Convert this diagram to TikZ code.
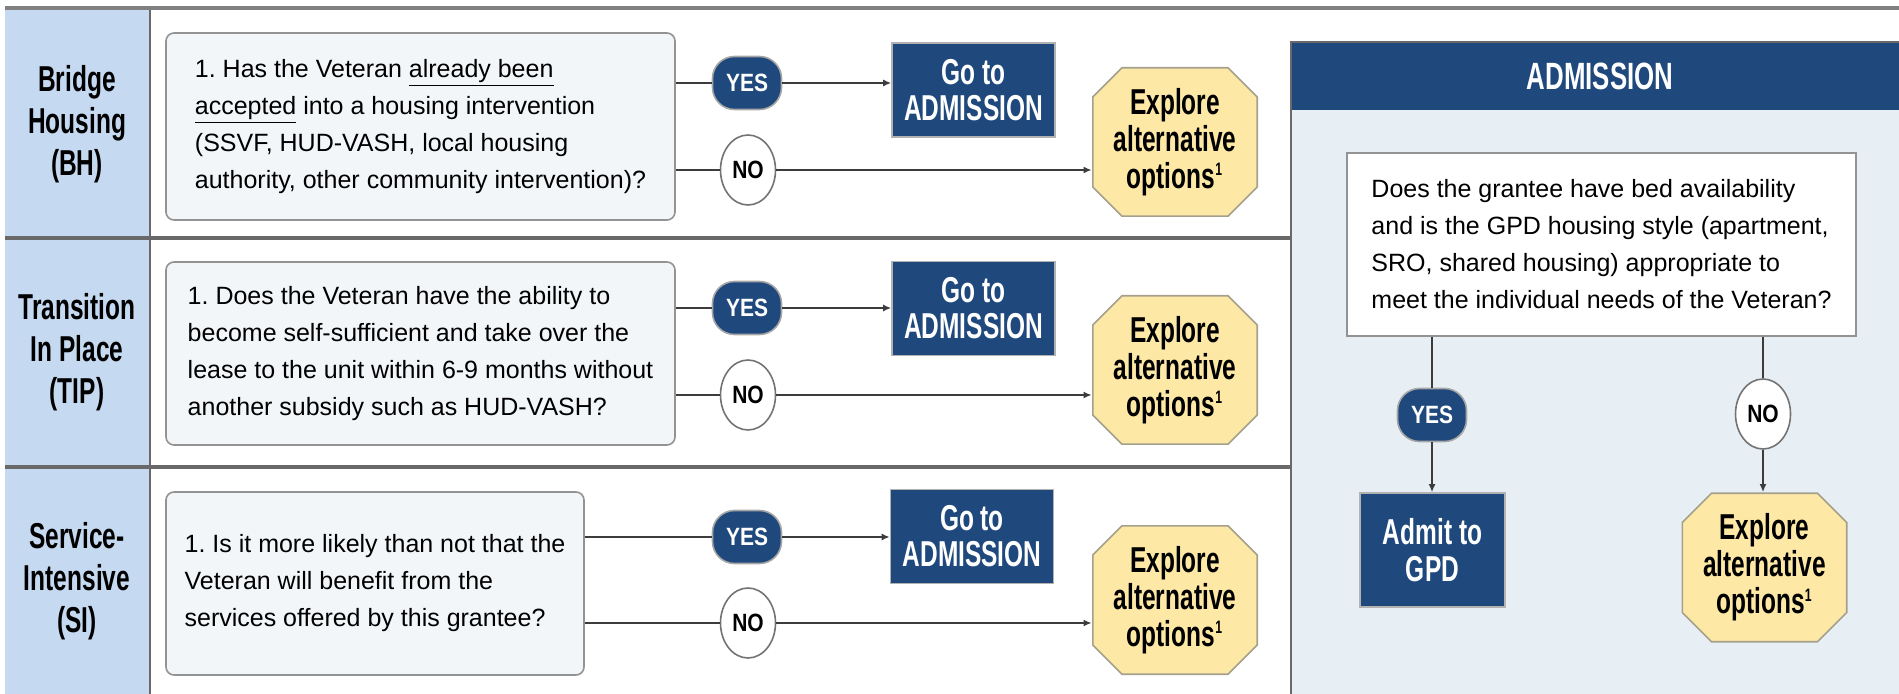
\documentclass[tikz,border=0pt]{standalone}
\usepackage{fontspec}
\setmainfont{Liberation Sans}
\newfontfamily\tallbold{Liberation Sans}[FakeStretch=0.68]
\newfontfamily\midbold{Liberation Sans}[FakeStretch=0.84]
\usepackage{xcolor}
\usetikzlibrary{shapes.geometric, arrows.meta, positioning, calc}
\frenchspacing

\definecolor{navy}{RGB}{31,73,125}
\definecolor{labelblue}{RGB}{197,217,241}
\definecolor{qfill}{RGB}{243,246,249}
\definecolor{octfill}{RGB}{253,232,166}
\definecolor{octedge}{RGB}{165,160,140}
\definecolor{panelfill}{RGB}{232,239,244}
\definecolor{rulegray}{RGB}{105,105,105}
\definecolor{linegray}{RGB}{60,60,60}

\newcommand{\footone}{\textsuperscript{\fontsize{9}{9}\selectfont 1}}

\tikzset{
  qbox/.style={draw=gray!85, fill=qfill, rounded corners=4pt, line width=0.8pt, align=left, minimum width=254.5pt, inner xsep=0pt, font=\fontsize{12.5}{18.5}\selectfont},
  yesnode/.style={draw=gray!70, fill=navy, text=white, rounded corners=11pt, minimum width=34.5pt, minimum height=26.5pt, inner sep=0pt, line width=0.8pt, font=\midbold\bfseries\fontsize{12.5}{14}\selectfont},
  nonode/.style={ellipse, draw=gray!90!black, fill=white, minimum width=27.5pt, minimum height=35pt, inner sep=0pt, line width=0.8pt, font=\midbold\bfseries\fontsize{12.5}{14}\selectfont},
  gobox/.style={draw=gray!60, fill=navy, text=white, align=center, minimum width=81.5pt, minimum height=47pt, line width=0.8pt, font=\tallbold\bfseries\fontsize{18}{18}\selectfont},
  octbox/.style={rectangle, fill=white, minimum width=83pt, minimum height=75pt, inner sep=0pt, align=center, font=\tallbold\bfseries\fontsize{18}{18.5}\selectfont,
    path picture={\draw[draw=octedge, fill=octfill, line width=0.8pt]
      ([xshift=15pt, yshift=-0.4pt]path picture bounding box.north west) --
      ([xshift=-15pt, yshift=-0.4pt]path picture bounding box.north east) --
      ([xshift=-0.4pt, yshift=-15pt]path picture bounding box.north east) --
      ([xshift=-0.4pt, yshift=15pt]path picture bounding box.south east) --
      ([xshift=-15pt, yshift=0.4pt]path picture bounding box.south east) --
      ([xshift=15pt, yshift=0.4pt]path picture bounding box.south west) --
      ([xshift=0.4pt, yshift=15pt]path picture bounding box.south west) --
      ([xshift=0.4pt, yshift=-15pt]path picture bounding box.north west) -- cycle;}},
  rowlabel/.style={align=center, font=\tallbold\bfseries\fontsize{18}{21}\selectfont},
  track/.style={draw=linegray, line width=0.9pt},
  flow/.style={track, -{Latex[length=4pt, width=3.5pt]}},
}

\begin{document}
\begin{tikzpicture}[x=0.5pt, y=-0.5pt]
\useasboundingbox (0,0) rectangle (1899,694);

% Left column and row rules
\fill[labelblue] (5,8) rectangle (150,694);
\draw[rulegray, line width=1.6pt] (5,238) -- (1291,238);
\draw[rulegray, line width=1.6pt] (5,467) -- (1291,467);
\draw[rulegray, line width=1.4pt] (150,8) -- (150,694);
\draw[gray, line width=2pt] (5,8) -- (1899,8);

% Row 1: Bridge Housing
\node[rowlabel] (bh) at (77,124) {Bridge\\Housing\\(BH)};
\node[qbox, minimum height=93.5pt] (q1) at (420.5,126.5)
   {1. Has the Veteran \underline{already been}\\\underline{accepted} into a housing intervention\\(SSVF, HUD-VASH, local housing\\authority, other community intervention)?};
\node[yesnode] (y1) at (747,83) {YES};
\node[nonode] (n1) at (748,170) {NO};
\node[gobox] (go1) at (973.5,90) {Go to\\ADMISSION};
\node[octbox] (o1) at (1175,142) {Explore\\alternative\\options\footone};

\draw[track] (y1 -| q1.east) -- (y1);
\draw[flow] (y1) -- (y1 -| go1.west);
\draw[track] (n1 -| q1.east) -- (n1);
\draw[flow] (n1) -- (n1 -| o1.west);

% Row 2: Transition In Place
\node[rowlabel] (tip) at (77,352) {Transition\\In Place\\(TIP)};
\node[qbox, minimum height=91.5pt] (q2) at (420.5,353.5)
   {1. Does the Veteran have the ability to\\become self-sufficient and take over the\\lease to the unit within 6-9 months without\\another subsidy such as HUD-VASH?};
\node[yesnode] (y2) at (747,308) {YES};
\node[nonode] (n2) at (748,395) {NO};
\node[gobox] (go2) at (973.5,308.5) {Go to\\ADMISSION};
\node[octbox] (o2) at (1175,370) {Explore\\alternative\\options\footone};

\draw[track] (y2 -| q2.east) -- (y2);
\draw[flow] (y2) -- (y2 -| go2.west);
\draw[track] (n2 -| q2.east) -- (n2);
\draw[flow] (n2) -- (n2 -| o2.west);

% Row 3: Service-Intensive
\node[rowlabel] (si) at (77,581) {Service-\\Intensive\\(SI)};
\node[qbox, minimum width=209pt, minimum height=91.5pt] (q3) at (375,583.5)
   {1. Is it more likely than not that the\\Veteran will benefit from the\\services offered by this grantee?};
\node[yesnode] (y3) at (747,537) {YES};
\node[nonode] (n3) at (748,623) {NO};
\node[gobox] (go3) at (972,536.5) {Go to\\ADMISSION};
\node[octbox] (o3) at (1175,600) {Explore\\alternative\\options\footone};

\draw[track] (y3 -| q3.east) -- (y3);
\draw[flow] (y3) -- (y3 -| go3.west);
\draw[track] (n3 -| q3.east) -- (n3);
\draw[flow] (n3) -- (n3 -| o3.west);

% Admission panel
\fill[panelfill] (1291,110) rectangle (1899,694);
\fill[navy] (1291,42) rectangle (1899,110);
\draw[rulegray, line width=1pt] (1291,694) -- (1291,42) -- (1899,42);
\node[text=white, font=\tallbold\bfseries\fontsize{19}{21}\selectfont] (adm) at (1600,76) {ADMISSION};

\node[qbox, fill=white, rounded corners=0pt, minimum height=91.5pt] (aq) at (1601.5,244.5)
   {Does the grantee have bed availability\\and is the GPD housing style (apartment,\\SRO, shared housing) appropriate to\\meet the individual needs of the Veteran?};
\node[yesnode] (y4) at (1432,415) {YES};
\node[nonode] (n4) at (1763,414) {NO};
\node[gobox, minimum width=72.5pt, minimum height=57pt, font=\tallbold\bfseries\fontsize{18}{18.5}\selectfont] (admit) at (1432.5,550) {Admit to\\GPD};
\node[octbox, fill=panelfill] (o4) at (1764.5,567.5) {Explore\\alternative\\options\footone};

\draw[track] (aq.south -| y4) -- (y4);
\draw[flow] (y4) -- (y4 |- admit.north);
\draw[track] (aq.south -| n4) -- (n4);
\draw[flow] (n4) -- (n4 |- o4.north);
\end{tikzpicture}
\end{document}
